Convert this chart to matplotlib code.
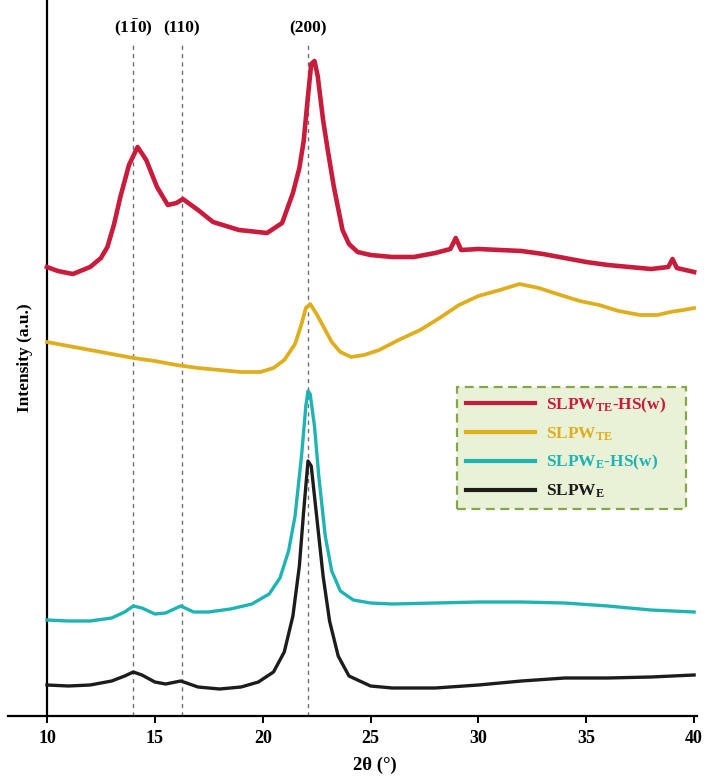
import matplotlib
matplotlib.use("Agg")
import matplotlib.pyplot as plt

# XRD patterns, intensity in arbitrary units (curves already offset)
x_te_hs = [10, 10.5, 11.2, 12.0, 12.5, 12.8, 13.1, 13.4, 13.8, 14.2, 14.6, 15.1, 15.6,
           16.0, 16.3, 17.0, 17.7, 18.9, 20.2, 20.9, 21.4, 21.7, 21.9, 22.1, 22.25,
           22.4, 22.55, 22.8, 23.0, 23.3, 23.7, 24.0, 24.4, 25, 26, 27, 28, 28.7,
           28.95, 29.2, 30, 31, 32, 33, 34, 35, 36, 37, 38, 38.8, 39.0, 39.2, 40]
y_te_hs = [449, 445, 442, 449, 458, 469, 491, 519, 551, 569, 556, 529, 511,
           513, 517, 506, 494, 486, 483, 493, 523, 548, 575, 620, 652,
           655, 640, 596, 568, 529, 486, 472, 464, 461, 459, 459, 463, 467,
           478, 466, 467, 466, 465, 462, 458, 454, 451, 449, 447, 449, 457, 448, 444]

x_te = [10, 11, 12, 13, 14, 15, 16, 17, 18, 19, 19.9, 20.5, 21.0, 21.5, 21.8, 22.0,
        22.2, 22.5, 22.8, 23.2, 23.6, 24.1, 24.7, 25.4, 26.3, 27.3, 28.2, 29.1,
        30.0, 31.0, 31.9, 32.8, 33.8, 34.7, 35.6, 36.5, 37.5, 38.3, 38.9, 39.5, 40]
y_te = [374, 370, 366, 362, 358, 355, 351, 348, 346, 344, 344, 348, 356, 372, 392, 408,
        412, 402, 390, 374, 364, 359, 361, 366, 376, 386, 398, 411,
        420, 426, 432, 428, 421, 415, 411, 405, 401, 401, 404, 406, 408]

x_e_hs = [10, 11, 12, 13, 13.6, 14.0, 14.4, 15.0, 15.5, 16.2, 16.8, 17.5, 18.5, 19.5,
          20.3, 20.8, 21.2, 21.5, 21.8, 22.0, 22.1, 22.2, 22.4, 22.6, 22.9, 23.2,
          23.6, 24.2, 25, 26, 28, 30, 32, 34, 36, 38, 40]
y_e_hs = [96, 95, 95, 98, 104, 110, 108, 102, 103, 110, 104, 104, 107, 112,
          122, 138, 165, 200, 260, 310, 325, 322, 290, 240, 180, 145,
          125, 116, 113, 112, 113, 114, 114, 113, 110, 106, 104]

x_e = [10, 11, 12, 13, 13.6, 14.0, 14.4, 15.0, 15.5, 16.2, 17.0, 18.0, 19.0, 19.8,
       20.5, 21.0, 21.4, 21.7, 21.9, 22.1, 22.25, 22.5, 22.8, 23.1, 23.5, 24.0,
       25, 26, 28, 30, 32, 34, 36, 38, 40]
y_e = [31, 30, 31, 35, 40, 44, 41, 34, 32, 35, 29, 27, 29, 34,
       44, 64, 100, 150, 205, 255, 250, 200, 140, 95, 60, 40,
       30, 28, 28, 31, 35, 38, 38, 39, 41]

peak_pos = [14.0, 16.25, 22.1]
peak_names = [r"$\mathbf{(1\bar{1}0)}$", "(110)", "(200)"]

labels = [r"SLPW$_{\mathbf{TE}}$-HS(w)", r"SLPW$_{\mathbf{TE}}$",
          r"SLPW$_{\mathbf{E}}$-HS(w)", r"SLPW$_{\mathbf{E}}$"]
colors = ["#c81c3c", "#dfae1e", "#1fb3b3", "#1c1c1c"]

plt.rcParams["font.family"] = "Liberation Serif"
plt.rcParams["font.weight"] = "bold"
plt.rcParams["mathtext.fontset"] = "custom"
plt.rcParams["mathtext.rm"] = "Liberation Serif:bold"
plt.rcParams["mathtext.bf"] = "Liberation Serif:bold"
plt.rcParams["mathtext.it"] = "Liberation Serif:bold:italic"

fig = plt.figure(figsize=(7.09, 7.77), dpi=100)
ax = fig.add_axes([8 / 709, 61 / 777, 689 / 709, 716 / 777])

# reference lines for the cellulose reflections
ax.vlines(peak_pos, 0, 673, colors="#707070", linestyles=(0, (3, 3)), linewidth=1.0, zorder=1)
for p, name in zip(peak_pos, peak_names):
    ax.text(p, 688, name, ha="center", va="center", fontsize=12.5, fontweight="bold")

series = [(x_te_hs, y_te_hs), (x_te, y_te), (x_e_hs, y_e_hs), (x_e, y_e)]
widths = [3.3, 2.7, 2.4, 2.4]
handles = []
for (xs, ys), c, lw, lab in zip(series, colors, widths, labels):
    ln, = ax.plot(xs, ys, color=c, linewidth=lw, label=lab, zorder=3,
                  solid_joinstyle="round")
    handles.append(ln)

ax.set_xlim(10 - 39 / 21.57, 10 + 650 / 21.57)
ax.set_ylim(0, 716)
ax.spines["left"].set_position(("data", 10))
ax.spines["top"].set_visible(False)
ax.spines["right"].set_visible(False)
ax.spines["left"].set_linewidth(1.6)
ax.spines["bottom"].set_linewidth(1.6)
ax.set_yticks([])
ax.set_xticks([10, 15, 20, 25, 30, 35, 40])
ax.tick_params(axis="x", direction="out", length=5, width=1.4, pad=5, labelsize=13)
for t in ax.get_xticklabels():
    t.set_fontweight("bold")

fig.text(375 / 709, 1 - 765 / 777, "2θ (°)", ha="center", va="center", fontsize=13.5)
fig.text(25 / 709, 1 - 358 / 777, "Intensity (a.u.)", ha="center", va="center",
         rotation=90, fontsize=12.5)

box_x0 = (457 - 8) / 689
box_w = (686 - 457) / 689
box_y0 = (716 - 508) / 716
box_h = (508 - 387) / 716
leg = ax.legend(handles=handles, loc="upper left", mode="expand",
                bbox_to_anchor=(box_x0, box_y0, box_w, box_h),
                borderaxespad=0, fancybox=False, fontsize=12.5,
                handlelength=4.0, handletextpad=0.6, labelspacing=0.6,
                borderpad=0.5, framealpha=1)
frame = leg.get_frame()
frame.set_facecolor("#e9f1d6")
frame.set_edgecolor("#86a64a")
frame.set_linestyle((0, (4, 2.5)))
frame.set_linewidth(1.6)
for txt, c in zip(leg.get_texts(), colors):
    txt.set_color(c)
for h in leg.get_lines():
    h.set_linewidth(3.0)

fig.savefig("out.png", dpi=100)
